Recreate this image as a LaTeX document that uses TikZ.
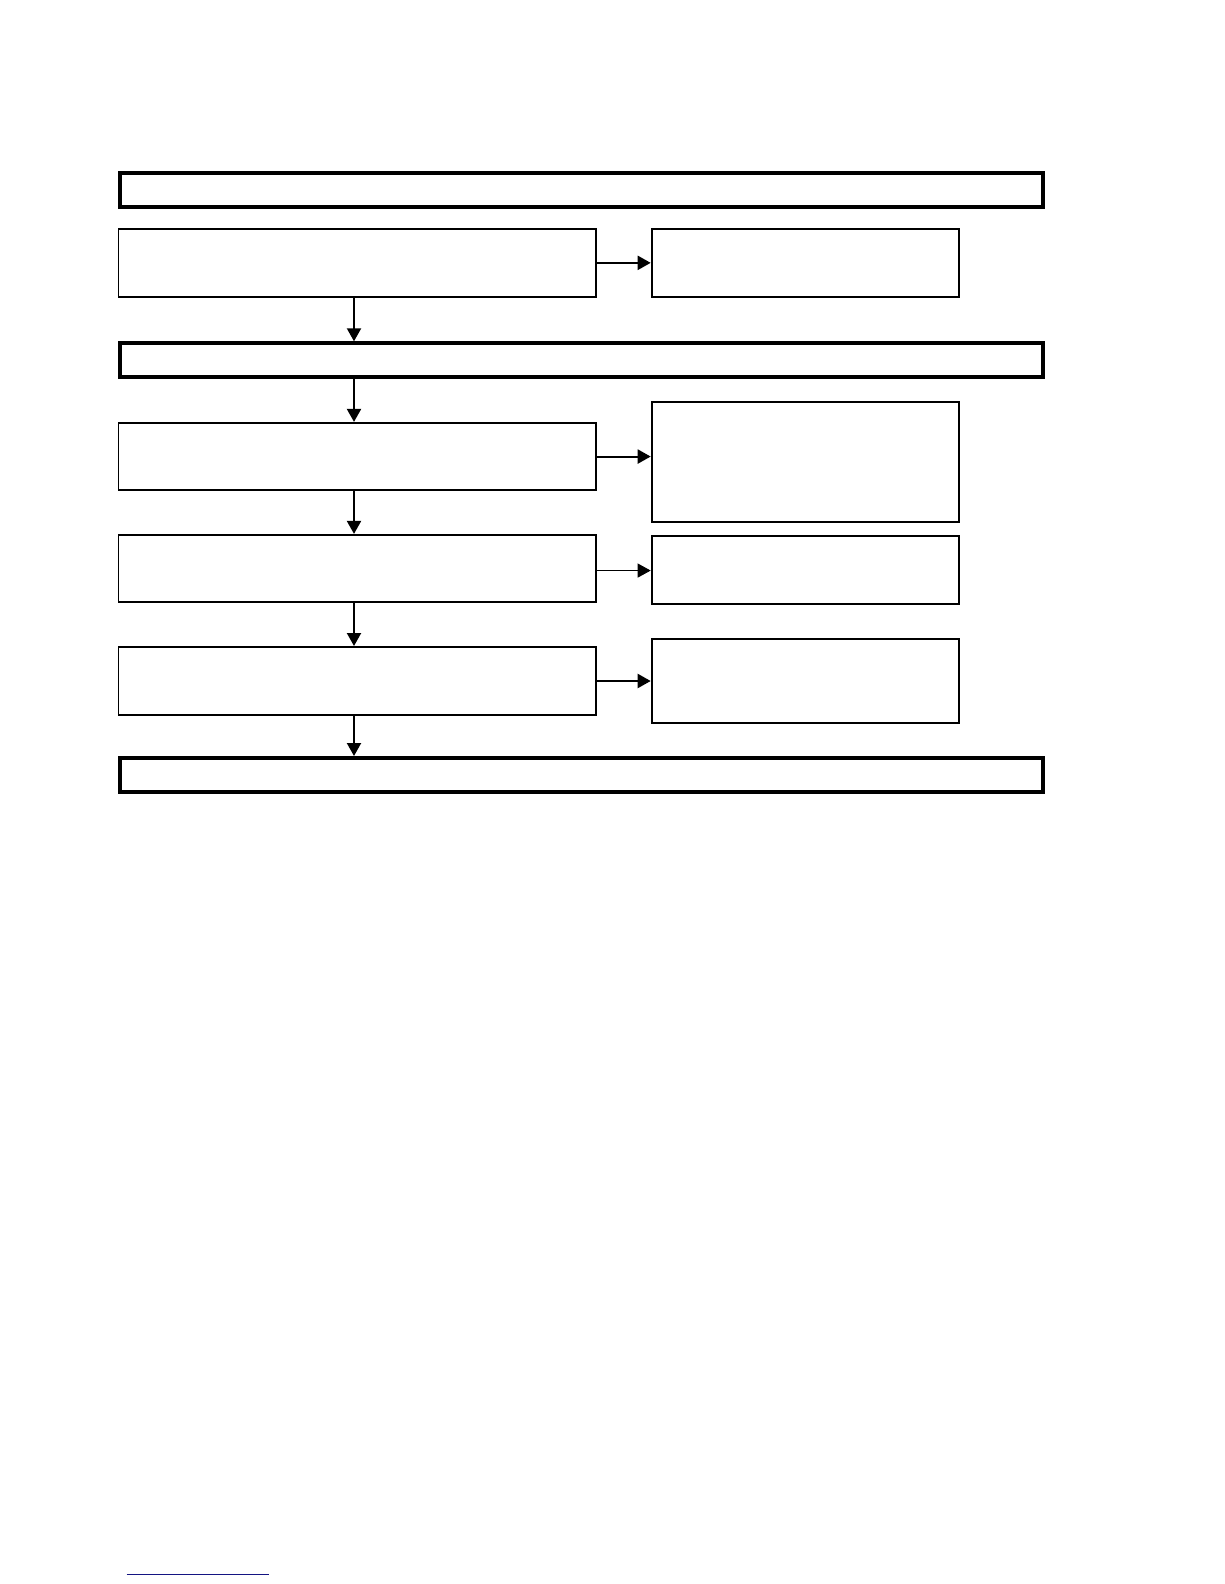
\documentclass[tikz,border=0pt]{standalone}
\usetikzlibrary{arrows.meta,positioning}
\definecolor{linkblue}{RGB}{20,20,130}

\begin{document}
\begin{tikzpicture}[x=1pt,y=-1pt,
  banner/.style={draw,line width=4pt,minimum width=923.5pt,minimum height=34pt,anchor=north west,inner sep=0pt},
  stepbox/.style={draw,line width=1.8pt,minimum width=477.7pt,minimum height=67.5pt,anchor=north west,inner sep=0pt},
  sidebox/.style={draw,line width=1.8pt,minimum width=307.2pt,anchor=north west,inner sep=0pt},
  flow/.style={line width=2.1pt,-{Triangle[length=13pt,width=14pt]}}]

  \useasboundingbox (0,0) rectangle (1224,1584);

  % banners
  \node[banner,minimum height=33.5pt] (ban1) at (117.5,171) {};
  \node[banner] (ban2) at (117.5,341.3) {};
  \node[banner] (ban3) at (117.5,756) {};

  % left column
  \node[stepbox] (stepA) at (117.5,228.2) {};
  \node[stepbox] (stepB) at (117.5,421.9) {};
  \node[stepbox] (stepC) at (117.5,533.9) {};
  \node[stepbox,minimum height=68.2pt] (stepD) at (117.5,646) {};

  % right column
  \node[sidebox,minimum height=68pt] (sideA) at (650.7,228.2) {};
  \node[sidebox,minimum height=120.2pt] (sideB) at (650.7,401) {};
  \node[sidebox,minimum height=67.8pt] (sideC) at (650.7,535.2) {};
  \node[sidebox,minimum height=83.7pt] (sideD) at (650.7,638.2) {};

  \coordinate (spine) at (354,0);
  \coordinate (cmid) at ([yshift=-2pt]stepC.east);

  % down arrows
  \draw[flow] (stepA.south -| spine) -- (ban2.north -| spine);
  \draw[flow] (ban2.south -| spine) -- (stepB.north -| spine);
  \draw[flow] (stepB.south -| spine) -- (stepC.north -| spine);
  \draw[flow] (stepC.south -| spine) -- (stepD.north -| spine);
  \draw[flow] (stepD.south -| spine) -- (ban3.north -| spine);

  % side arrows
  \draw[flow] (stepA.east) -- (sideA.west |- stepA.east);
  \draw[flow] (stepB.east) -- (sideB.west |- stepB.east);
  \draw[flow,line width=1pt] (cmid) -- (sideC.west |- cmid);
  \draw[flow] (stepD.east) -- (sideD.west |- stepD.east);

  % footer rule
  \draw[linkblue,line width=1.2pt] (126.7,1574.7) -- (269,1574.7);

\end{tikzpicture}
\end{document}
